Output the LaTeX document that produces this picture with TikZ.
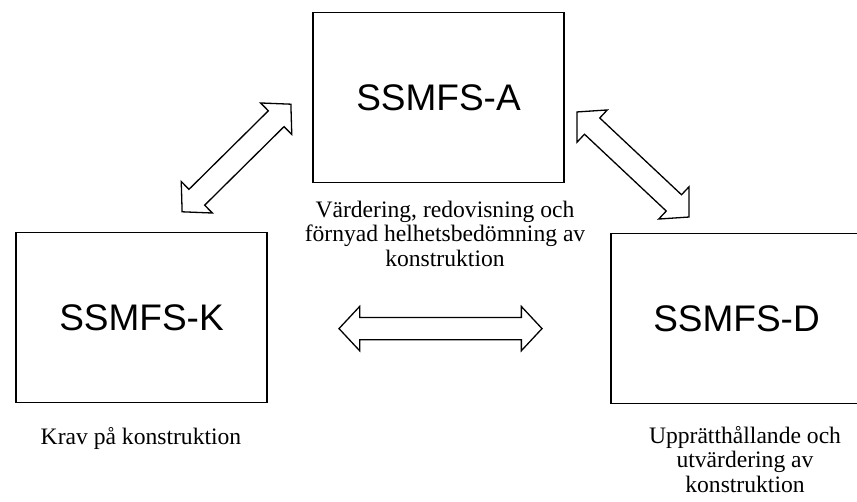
\documentclass[tikz,border=0pt]{standalone}
\usepackage{fontspec}
\setmainfont{Liberation Serif}
\newfontfamily\labelsans{Liberation Sans}
\usetikzlibrary{shapes.arrows}
\begin{document}
\begin{tikzpicture}[box/.style={draw,rectangle,line width=1.5bp,minimum width=251bp,minimum height=170bp,font=\labelsans\fontsize{37bp}{44bp}\selectfont},
    note/.style={align=center,inner sep=0pt,anchor=north,font=\fontsize{23.6bp}{24.5bp}\selectfont},
    blockarrow/.style={double arrow,draw,line width=1.3bp,inner xsep=0pt,inner ysep=10.5bp,minimum width=43bp,double arrow head extend=11bp,double arrow tip angle=94}]
  \useasboundingbox (0bp,0bp) rectangle (857bp,502bp);
  \node (A) at (438.5bp,404.5bp) [box] {SSMFS-A};
  \node (K) at (141.5bp,184.5bp) [box] {SSMFS-K};
  \node (D) at (736.5bp,183.5bp) [box] {SSMFS-D};
  \node (Anote) at (445bp,301.1bp) [note] {Värdering, redovisning och\\förnyad helhetsbedömning av\\konstruktion};
  \node (Knote) at (141bp,74.8bp) [note] {Krav på konstruktion};
  \node (Dnote) at (745bp,75.8bp) [note] {Upprätthållande och\\utvärdering av\\konstruktion};
  \node (KA) at (236.5bp,344bp) [blockarrow,minimum height=153bp,rotate=44.7] {};
  \node (AD) at (633bp,337.5bp) [blockarrow,minimum height=153.5bp,rotate=-43.2] {};
  \node (KD) at (440.5bp,173.4bp) [blockarrow,minimum height=203bp] {};
\end{tikzpicture}
\end{document}
